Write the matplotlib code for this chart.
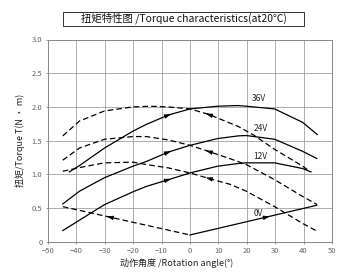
import numpy as np
import matplotlib
matplotlib.use("Agg")
import matplotlib.pyplot as plt

plt.rcParams['font.family'] = ['Noto Sans CJK SC', 'DejaVu Sans']

# ---- data ----
x36_up = [-42.5, -38.9, -30.1, -20.1, -15.4, -7.6, 0, 9.7, 17, 19.8, 29.8, 39.7, 44.8]
y36_up = [1.035, 1.13, 1.39, 1.64, 1.74, 1.88, 1.97, 2.01, 2.02, 2.01, 1.97, 1.77, 1.59]
x36_dn = [-44.8, -38.9, -30.1, -20.1, -14, -7.6, 0, 6.5, 17, 22.5, 29.8, 39.7, 42.1]
y36_dn = [1.57, 1.79, 1.94, 2.0, 2.01, 2.0, 1.97, 1.89, 1.71, 1.58, 1.37, 1.12, 1.045]

x24_up = [-44.8, -38.9, -30.1, -20.1, -15.4, -7.6, 0, 9.7, 17, 19.8, 29.8, 39.7, 44.6]
y24_up = [0.56, 0.75, 0.95, 1.12, 1.19, 1.33, 1.43, 1.53, 1.57, 1.575, 1.52, 1.34, 1.235]
x24_dn = [-44.8, -38.9, -30.1, -20.1, -15.4, -7.6, 0, 6.5, 14.2, 19.8, 29.8, 39.7, 44.8]
y24_dn = [1.21, 1.39, 1.52, 1.56, 1.56, 1.51, 1.43, 1.34, 1.23, 1.145, 0.92, 0.67, 0.55]

x12_up = [-44.8, -38.9, -30.1, -20.1, -15.4, -7.6, 0, 9.7, 17, 19.8, 29.8, 39.7, 42.6]
y12_up = [0.165, 0.32, 0.55, 0.74, 0.82, 0.92, 1.02, 1.12, 1.16, 1.17, 1.17, 1.085, 1.035]
x12_dn = [-44.8, -38.9, -30.1, -20.1, -15.4, -7.6, 0, 6.5, 14.2, 19.8, 29.8, 39.7, 45]
y12_dn = [1.045, 1.1, 1.17, 1.18, 1.145, 1.095, 1.02, 0.94, 0.85, 0.75, 0.52, 0.27, 0.15]

x0_dn = [-44.8, 0]
y0_dn = [0.52, 0.1]
x0_up = [0, 44.6]
y0_up = [0.1, 0.54]

voltage_labels = ["36V", "24V", "12V", "0V"]
label_pos = [(24.2, 2.13), (24.8, 1.68), (24.8, 1.27), (23.9, 0.42)]

xticks = [-50, -40, -30, -20, -10, 0, 10, 20, 30, 40, 50]
yticks = [0, 0.5, 1.0, 1.5, 2.0, 2.5, 3.0]
ytick_labels = ["0", "0.5", "1.0", "1.5", "2.0", "2.5", "3.0"]

title = "扭矩特性图 /Torque characteristics(at20℃)"
xlabel = "动作角度 /Rotation angle(°)"
ylabel = "扭矩/Torque T(N · m)"

# ---- figure ----
fig = plt.figure(figsize=(3.54, 2.78), dpi=100)
L, R, T, B = 48, 332, 39.5, 241.7
ax = fig.add_axes([L/354, 1-B/278, (R-L)/354, (B-T)/278])
ax.set_xlim(-50, 50)
ax.set_ylim(0, 3.0)
ax.set_xticks(xticks)
ax.set_yticks(yticks)
ax.set_yticklabels(ytick_labels)
ax.grid(True, color='#a0a0a0', lw=0.6)
ax.set_axisbelow(True)
for s in ax.spines.values():
    s.set_color('#888888')
    s.set_linewidth(0.7)
ax.tick_params(length=1.5, width=0.6, color='#888888', labelsize=5.5,
               labelcolor='#666666', pad=2.5)

lw = 0.9
dash = (0, (4.5, 2.5))

def arrow_on(xs, ys, xa, direction):
    xs = np.asarray(xs, float); ys = np.asarray(ys, float)
    d = 0.9 * direction
    y1 = np.interp(xa - d, xs, ys)
    y2 = np.interp(xa + d, xs, ys)
    ax.annotate('', xy=(xa + d, y2), xytext=(xa - d, y1),
                arrowprops=dict(arrowstyle='-|>,head_length=0.4,head_width=0.13',
                                color='black', lw=0.5, shrinkA=0, shrinkB=0))

curves_up = [(x36_up, y36_up), (x24_up, y24_up), (x12_up, y12_up)]
curves_dn = [(x36_dn, y36_dn), (x24_dn, y24_dn), (x12_dn, y12_dn)]
for xs, ys in curves_up:
    ax.plot(xs, ys, color='black', lw=lw)
    arrow_on(xs, ys, -7.6, 1)
for xs, ys in curves_dn:
    ax.plot(xs, ys, color='black', lw=lw, linestyle=dash)
    arrow_on(xs, ys, 6.5, -1)

ax.plot(x0_dn, y0_dn, color='black', lw=lw, linestyle=dash)
arrow_on(x0_dn, y0_dn, -28.4, -1)
ax.plot(x0_up, y0_up, color='black', lw=lw)
arrow_on(x0_up, y0_up, 27.2, 1)

for lab, (lx, ly) in zip(voltage_labels, label_pos):
    ax.text(lx, ly, lab, fontsize=6, ha='center', va='center', color='#222222')

ax.set_xlabel(xlabel, fontsize=6.5, color='#222222')
ax.xaxis.set_label_coords((177 - L)/(R - L), -(262.7 - B)/(B - T))
ax.xaxis.label.set_va('center')
ax.set_ylabel(ylabel, fontsize=6.5, color='#222222')
ax.yaxis.set_label_coords((20 - L)/(R - L), (B - 140)/(B - T))
ax.yaxis.label.set_va('center')

fig.text(184/354, 1-18.7/278, title, fontsize=7.5, ha='center', va='center',
         color='#111111')
box = plt.Rectangle((62.7/354, 1-25.7/278), (304.3-62.7)/354, 14/278,
                    transform=fig.transFigure, fill=False, ec='#333333', lw=0.7)
fig.add_artist(box)

fig.savefig("out.png", dpi=100)
